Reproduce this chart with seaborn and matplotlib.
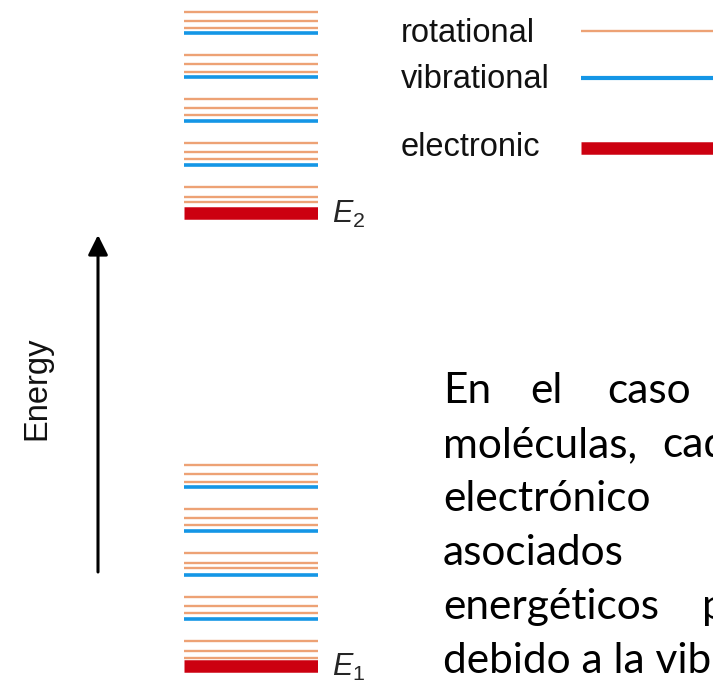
import numpy as np
import pandas as pd
import matplotlib
matplotlib.use("Agg")
import matplotlib.pyplot as plt
import seaborn as sns

# niveles de energia (unidades arbitrarias, E1 = 0)
electronic = [0.0, 45.33]
vibrational = [4.70, 9.13, 13.53, 17.87,
               50.13, 54.53, 58.87, 63.27]
rotational = [0.77, 1.50, 2.53, 5.27, 6.00, 6.93, 9.77, 10.33, 11.27,
              14.10, 14.77, 15.67, 18.43, 19.17, 20.10,
              46.37, 46.93, 47.87, 50.70, 51.37, 52.27, 55.10, 55.80, 56.70,
              59.43, 60.20, 61.10, 63.80, 64.53, 65.43]
kinds = ["rotational", "vibrational", "electronic"]
state_labels = ["$E_1$", "$E_2$"]

colors = {"rotational": "#EDA275", "vibrational": "#1496E6", "electronic": "#CC0010"}
widths = {"rotational": 1.7, "vibrational": 2.6, "electronic": 9.0}

# texto (justificado como en la diapositiva, cortado por el borde derecho)
texto = [
    [("En", 443), ("el", 530), ("caso", 607), ("de", 730)],
    [("moléculas,", 443), ("cada", 662)],
    [("electrónico", 443), ("tiene", 730)],
    [("asociados", 443), ("varios", 730)],
    [("energéticos", 443), ("por", 702)],
    [("debido a la vibración", 443)],
]

sns.set_style("white")
plt.rcParams["font.family"] = ["Liberation Sans", "DejaVu Sans"]
plt.rcParams["lines.solid_capstyle"] = "butt"
plt.rcParams["mathtext.fontset"] = "custom"
plt.rcParams["mathtext.rm"] = "Liberation Sans"
plt.rcParams["mathtext.it"] = "Liberation Sans:italic"

# tabla larga: cada nivel es una linea de x=0 a x=1
rows = []
nid = 0
for kind, vals in zip(kinds, [rotational, vibrational, electronic]):
    for e in vals:
        rows.append({"level": nid, "kind": kind, "x": 0.0, "E": e})
        rows.append({"level": nid, "kind": kind, "x": 1.0, "E": e})
        nid += 1
df = pd.DataFrame(rows)

W, H = 713, 684
fig = plt.figure(figsize=(W / 100, H / 100), dpi=100)

# capa de fondo en pixeles para flecha, leyenda y texto
lax = fig.add_axes([0, 0, 1, 1])
lax.set_xlim(0, W)
lax.set_ylim(H, 0)
lax.set_axis_off()

ax = fig.add_axes([184 / W, 0, 134 / W, 1])
sns.lineplot(data=df, x="x", y="E", hue="kind", size="kind", units="level",
             estimator=None, sort=False, hue_order=kinds, size_order=kinds,
             palette=colors, sizes=widths, legend=False, ax=ax)
ax.set_xlim(0, 1)
ax.set_ylim(-1.8, 66.6)
ax.set_axis_off()

for e, lab in zip(electronic, state_labels):
    ax.annotate(lab, xy=(1, e), xytext=(10, -7), textcoords="offset points",
                fontsize=22, va="baseline", ha="left", annotation_clip=False)

# flecha de energia
lax.annotate("", xy=(98, 235), xytext=(98, 572),
             arrowprops=dict(arrowstyle="-|>", lw=2.2, color="black",
                             mutation_scale=30, shrinkA=0, shrinkB=0))
lax.text(37, 388, "Energy", rotation=90, ha="center", va="center",
         fontsize=23.5, color="#111111")

# leyenda
leg_y = [31, 77.5, 147.5]
txt_y = [41.7, 88.3, 156]
for kind, ly, ty in zip(kinds, leg_y, txt_y):
    lax.text(401, ty, kind, fontsize=23.5, va="baseline", ha="left", color="#111111")
    lax.plot([581, W + 5], [ly, ly], color=colors[kind],
             lw=widths[kind] + (0.4 if kind == "vibrational" else 0), clip_on=False)

# parrafo en espanol
base_y = [403, 457, 511, 565, 619, 673]
for linea, by in zip(texto, base_y):
    for palabra, px in linea:
        lax.text(px, by, palabra, fontsize=30.5, va="baseline", ha="left",
                 family=["Lato", "DejaVu Sans"], color="black")

fig.savefig("out.png", dpi=100)
